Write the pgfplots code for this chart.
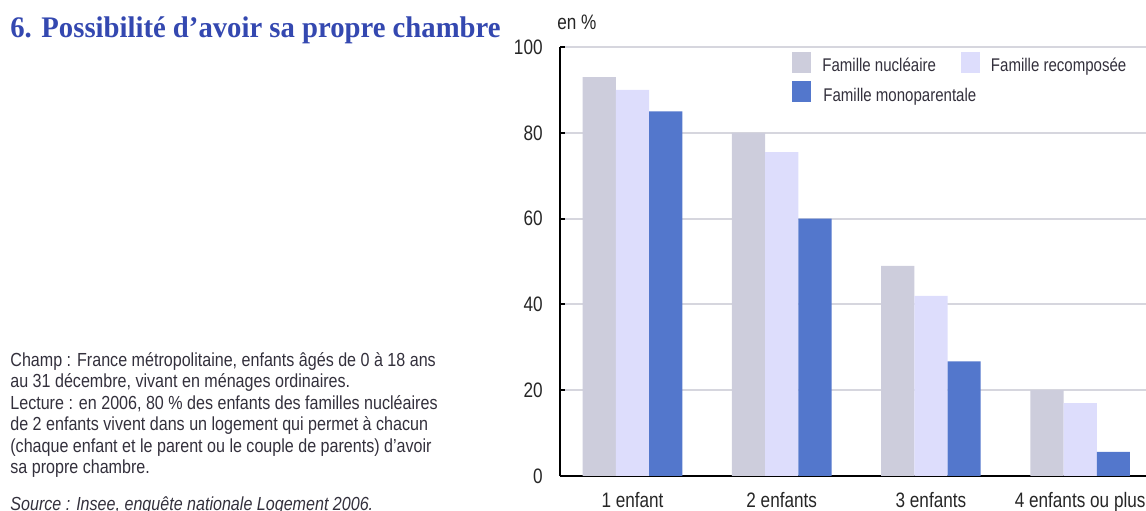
\documentclass[border=0pt]{standalone}
\usepackage{fontspec}
\setmainfont{Liberation Sans}
\newfontfamily\narrowfont[FakeStretch=0.82]{Liberation Sans}
\newfontfamily\notefont[FakeStretch=0.85]{Liberation Sans}
\newfontfamily\titlefont[FakeStretch=0.96]{Liberation Serif}
\usepackage{pgfplots}
\pgfplotsset{compat=1.18}

\definecolor{nucl}{RGB}{205,205,220}
\definecolor{recomp}{RGB}{221,221,252}
\definecolor{mono}{RGB}{83,119,204}
\definecolor{gridc}{RGB}{214,214,222}
\definecolor{titlec}{RGB}{52,72,176}
\definecolor{notec}{RGB}{51,48,60}

\pgfplotsset{
  layers/gridbelow/.define layer set={axis background,axis grid,main,axis ticks,axis lines,axis tick labels,axis descriptions,axis foreground}{},
}

\begin{document}
\begin{tikzpicture}
\begin{axis}[
    set layers=gridbelow,
    at={(0,0)}, anchor=south west,
    scale only axis,
    width=292.9bp, height=214.5bp,
    ybar=0pt, bar width=16.6bp,
    xmin=-0.486, xmax=3.44,
    ymin=0, ymax=100,
    ytick={0,20,...,100},
    xtick={0,1,2,3},
    xticklabels={1 enfant, 2 enfants, 3 enfants, 4 enfants ou plus},
    axis x line*=bottom, axis y line*=left,
    axis line style={black, line width=1.3bp},
    ymajorgrids,
    grid style={draw=gridc, line width=1bp},
    xtick style={draw=none},
    ytick style={black, line width=1bp},
    major tick length=2.5bp, tick align=inside,
    /pgf/number format/assume math mode=true,
    tick label style={font=\narrowfont\fontsize{10.5}{12}\selectfont, text=black!85},
    yticklabel style={anchor=east, inner sep=0pt, xshift=-8.5bp},
    xticklabel style={anchor=base, inner sep=0pt, yshift=-15.5bp},
    legend columns=2,
    legend cell align=left,
    legend style={draw=none, fill=none, inner sep=0pt,
        at={(0.396,0.990)}, anchor=north west,
        font=\narrowfont\fontsize{9.2}{11}\selectfont, text=notec,
        nodes={inner sep=0pt},
        row sep=3bp,
        /tikz/every odd column/.append style={column sep=5.5bp},
        /tikz/every even column/.append style={column sep=12.5bp}},
    legend image code/.code={\fill[#1,draw=none] (0bp,-3bp) rectangle (9.5bp,7.5bp);},
]
\addplot[fill=nucl, draw=none] coordinates {(0,93) (1,80) (2,49) (3,20)};
\addlegendentry{Famille nucléaire}
\addplot[fill=recomp, draw=none] coordinates {(0,90) (1,75.5) (2,42) (3,17)};
\addlegendentry{Famille recomposée}
\addplot[fill=mono, draw=none] coordinates {(0,85) (1,60) (2,26.7) (3,5.6)};
\addlegendentry{\makebox[0pt][l]{Famille monoparentale}}
\end{axis}
\node[anchor=base west, inner sep=0pt, font=\narrowfont\fontsize{10.5}{12}\selectfont, text=black!85] at (-1.5bp,223bp) {en \%};
\node[anchor=base west, inner sep=0pt, font=\titlefont\bfseries\fontsize{15}{18}\selectfont, text=titlec] at (-275bp,219bp) {6. Possibilité d’avoir sa propre chambre};
\node[anchor=base west, inner sep=0pt, align=left, font=\notefont\fontsize{9.5}{10.75}\selectfont, text=notec] at (-275bp,1.25bp) {Champ : France métropolitaine, enfants âgés de 0 à 18 ans\\
au 31 décembre, vivant en ménages ordinaires.\\
Lecture : en 2006, 80 \% des enfants des familles nucléaires\\
de 2 enfants vivent dans un logement qui permet à chacun\\
(chaque enfant et le parent ou le couple de parents) d’avoir\\
sa propre chambre.};
\node[anchor=base west, inner sep=0pt, font=\notefont\itshape\fontsize{9.5}{10.75}\selectfont, text=notec] at (-275bp,-17bp) {Source : Insee, enquête nationale Logement 2006.};
\pgfresetboundingbox
\path[use as bounding box] (-280bp,-17.5bp) rectangle (293bp,238bp);
\end{tikzpicture}
\end{document}
